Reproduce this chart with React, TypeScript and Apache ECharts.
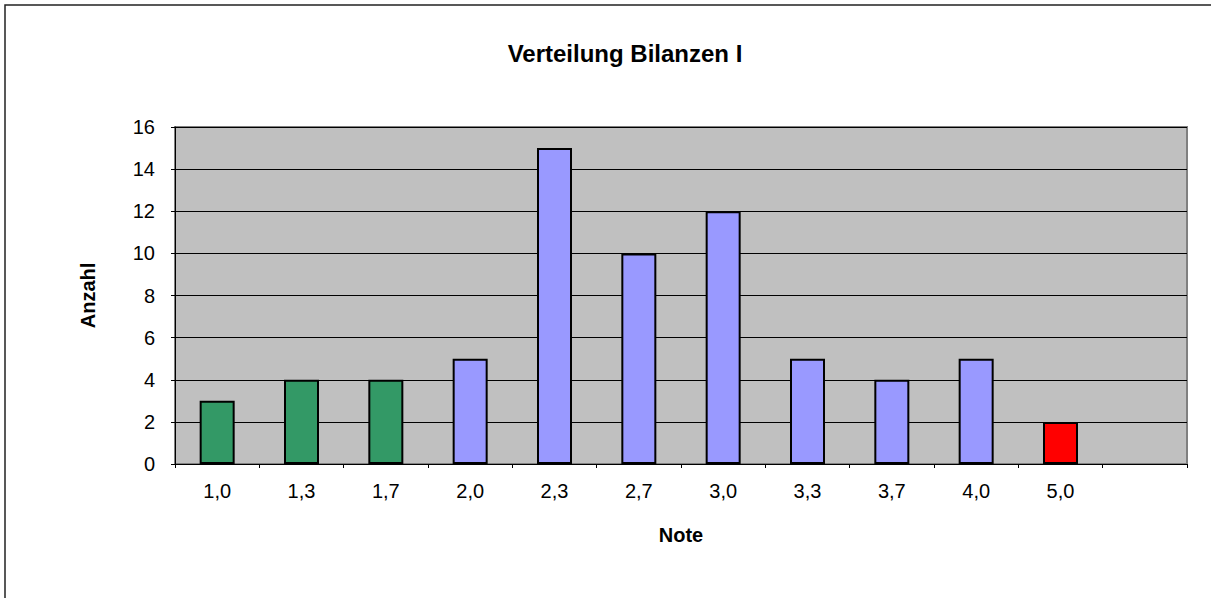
import React, { useEffect, useRef } from "react";
import * as echarts from "echarts";

const categories = ["1,0", "1,3", "1,7", "2,0", "2,3", "2,7", "3,0", "3,3", "3,7", "4,0", "5,0", ""];
const counts: (number | null)[] = [3, 4, 4, 5, 15, 10, 12, 5, 4, 5, 2, null];
const groups = ["good", "good", "good", "mid", "mid", "mid", "mid", "mid", "mid", "mid", "fail", "mid"];
const yTicks = { min: 0, max: 16, interval: 2 };
const title = "Verteilung Bilanzen I";
const xName = "Note";
const yName = "Anzahl";

const groupColor: Record<string, string> = { good: "#339966", mid: "#9999FF", fail: "#FF0000" };

export default function App() {
  const ref = useRef<HTMLDivElement>(null);
  useEffect(() => {
    document.body.style.margin = "0";
    const chart = echarts.init(ref.current!, null, { renderer: "svg" });
    const font = "Liberation Sans, Arial, sans-serif";
    chart.setOption({
      animation: false,
      backgroundColor: "#ffffff",
      textStyle: { fontFamily: font },
      title: {
        text: title,
        left: 620,
        textAlign: "center",
        top: 36,
        textStyle: { fontFamily: font, fontSize: 24, fontWeight: "bold", color: "#000" },
      },
      graphic: [
        {
          type: "rect",
          shape: { x: 5, y: 5, width: 1300, height: 700 },
          style: { fill: "none", stroke: "#222", lineWidth: 1.5 },
          silent: true,
          z: 100,
        },
      ],
      grid: {
        left: 175,
        top: 127,
        right: 24,
        bottom: 134,
        show: true,
        backgroundColor: "#C0C0C0",
        borderColor: "#808080",
        borderWidth: 2,
      },
      xAxis: {
        type: "category",
        data: categories,
        name: xName,
        nameLocation: "middle",
        nameGap: 61,
        nameTextStyle: { fontFamily: font, fontSize: 20, fontWeight: "bold", color: "#000" },
        axisLine: { show: true, lineStyle: { color: "#000", width: 1 } },
        axisTick: { show: true, length: 4, lineStyle: { color: "#000" }, alignWithLabel: false },
        axisLabel: { fontFamily: font, fontSize: 20, color: "#000", margin: 17 },
        splitLine: { show: false },
      },
      yAxis: {
        type: "value",
        min: yTicks.min,
        max: yTicks.max,
        interval: yTicks.interval,
        name: yName,
        nameLocation: "middle",
        nameGap: 77,
        nameRotate: 90,
        nameTextStyle: { fontFamily: font, fontSize: 20, fontWeight: "bold", color: "#000" },
        axisLine: { show: true, lineStyle: { color: "#000", width: 1 } },
        axisTick: { show: true, length: 4, lineStyle: { color: "#000" } },
        axisLabel: { fontFamily: font, fontSize: 20, color: "#000", margin: 20 },
        splitLine: { show: true, lineStyle: { color: "#000", width: 1 } },
      },
      series: [
        {
          type: "bar",
          barWidth: 35,
          data: counts.map((v, i) => ({
            value: v,
            itemStyle: { color: groupColor[groups[i]], borderColor: "#000", borderWidth: 2 },
          })),
        },
      ],
    });
    return () => chart.dispose();
  }, []);
  return <div ref={ref} style={{ width: 1211, height: 598 }} />;
}
